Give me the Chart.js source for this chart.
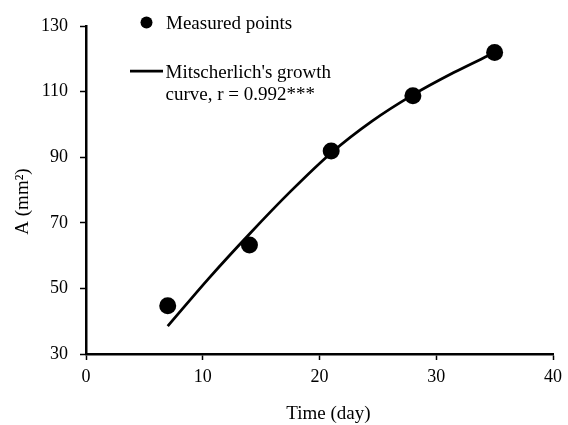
<!DOCTYPE html>
<html>
<head>
<meta charset="utf-8">
<style>
  html, body { margin: 0; padding: 0; background: #fff; }
  canvas { display: block; }
</style>
<script src="https://cdn.jsdelivr.net/npm/chart.js@4.4.1/dist/chart.umd.min.js"></script>
</head>
<body>
<canvas id="growth-chart" width="568" height="425"></canvas>
<script>
const days = [7, 14, 21, 28, 35];
const measuredArea = [44.7, 63.2, 91.9, 108.7, 121.9];

// fitted curve
const curveDays = [7, 10.5, 14, 17.5, 21, 24.5, 28, 31.5, 35];
const curveArea = [38.5, 53.0, 66.6, 79.5, 91.3, 101.0, 109.0, 115.8, 121.9];

const xTicks = [0, 10, 20, 30, 40];
const yTicks = [30, 50, 70, 90, 110, 130];

const serif = "'Liberation Serif', 'Times New Roman', serif";
const ink = '#000';

const toPoints = (xs, ys) => xs.map((x, i) => ({ x: x, y: ys[i] }));

// legend + axis titles drawn by hand so they sit where the original has them
const decorations = {
  id: 'decorations',
  afterDraw(chart) {
    const ctx = chart.ctx;
    const area = chart.chartArea;
    ctx.save();
    ctx.fillStyle = ink;
    ctx.strokeStyle = ink;

    ctx.beginPath();
    ctx.arc(146.5, 22.5, 6, 0, Math.PI * 2);
    ctx.fill();

    ctx.lineWidth = 2.75;
    ctx.beginPath();
    ctx.moveTo(130, 71);
    ctx.lineTo(163, 71);
    ctx.stroke();

    ctx.font = '19px ' + serif;
    ctx.textAlign = 'left';
    ctx.textBaseline = 'alphabetic';
    ctx.fillText('Measured points', 166, 29);
    ctx.fillText("Mitscherlich's growth", 165.5, 77.5);
    ctx.fillText('curve, r = 0.992***', 165.5, 99.5);

    ctx.textAlign = 'center';
    ctx.textBaseline = 'middle';
    ctx.fillText('Time (day)', (area.left + area.right) / 2 + 9, 414);

    ctx.translate(23, 201.5);
    ctx.rotate(-Math.PI / 2);
    ctx.fillText('A (mm²)', 0, 0);
    ctx.restore();
  }
};

new Chart(document.getElementById('growth-chart').getContext('2d'), {
  type: 'scatter',
  data: {
    datasets: [
      {
        label: 'Measured points',
        data: toPoints(days, measuredArea),
        pointRadius: 8.5,
        pointBorderWidth: 0,
        backgroundColor: ink,
        borderColor: ink,
        showLine: false,
      },
      {
        label: "Mitscherlich's growth curve",
        data: toPoints(curveDays, curveArea),
        showLine: true,
        pointRadius: 0,
        borderColor: ink,
        borderWidth: 2.75,
        cubicInterpolationMode: 'monotone',
        fill: false,
      },
    ],
  },
  options: {
    responsive: false,
    animation: false,
    devicePixelRatio: 1,
    layout: { padding: { top: 26, right: 11, bottom: 0, left: 0 } },
    plugins: {
      legend: { display: false },
      tooltip: { enabled: false },
    },
    scales: {
      x: {
        type: 'linear',
        min: xTicks[0],
        max: xTicks[xTicks.length - 1],
        afterBuildTicks: (scale) => { scale.ticks = xTicks.map((v) => ({ value: v })); },
        afterFit: (scale) => { scale.height = 71; },
        ticks: { color: ink, font: { family: serif, size: 18 }, padding: 6, maxRotation: 0 },
        grid: { drawOnChartArea: false, drawTicks: true, tickLength: 6, tickWidth: 1.5, tickColor: ink },
        border: { display: true, color: ink, width: 2.5 },
      },
      y: {
        min: yTicks[0],
        max: yTicks[yTicks.length - 1],
        afterBuildTicks: (scale) => { scale.ticks = yTicks.map((v) => ({ value: v })); },
        afterFit: (scale) => { scale.width = 86; },
        ticks: { color: ink, font: { family: serif, size: 18 }, padding: 12 },
        grid: { drawOnChartArea: false, drawTicks: true, tickLength: 6, tickWidth: 1.5, tickColor: ink },
        border: { display: true, color: ink, width: 2.5 },
      },
    },
  },
  plugins: [decorations],
});
</script>
</body>
</html>
